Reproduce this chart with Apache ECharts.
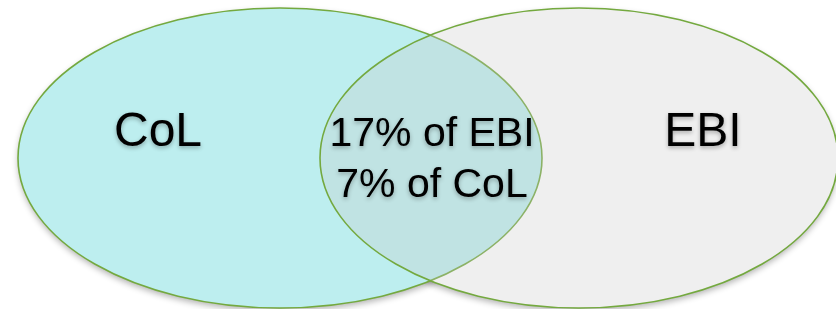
<!DOCTYPE html>
<html lang="en">

<head>
    <meta charset="UTF-8">
    <title>CoL / EBI overlap</title>
    <style>
        * {
            padding: 0;
            margin: 0;
        }

        body {
            background: #fff;
        }

        #main {
            width: 836px;
            height: 309px;
        }
    </style>
</head>

<body>
    <div id="main"></div>
</body>

</html>
<script src="https://cdn.jsdelivr.net/npm/echarts@6/dist/echarts.min.js"></script>
<script>
    // 两个集合
    var setNames = ['CoL', 'EBI'];
    // 交集占比(%)，以及占的是哪个集合
    var overlapShares = [17, 7];
    var overlapOf = ['EBI', 'CoL'];

    // 版式：椭圆在画布坐标里的中心和半径（x 0-836, y 0-309）
    var layout = {
        CoL: { cx: 280, cy: 158, rx: 262, ry: 150, labelX: 158, labelY: 133 },
        EBI: { cx: 579, cy: 158, rx: 259, ry: 150, labelX: 703, labelY: 133 },
        overlap: { x: 432, y: 135, lineGap: 51 }
    };
    var fills = {
        CoL: '#bdeeef',
        EBI: 'rgba(199,199,199,0.29)'
    };

    var myChart = echarts.init(document.getElementById('main'));

    function ellipseShape(api, name) {
        var g = layout[name];
        var c = api.coord([g.cx, g.cy]);
        var edge = api.coord([g.cx + g.rx, g.cy + g.ry]);
        return { cx: c[0], cy: c[1], rx: edge[0] - c[0], ry: edge[1] - c[1] };
    }

    // 底层：白色椭圆 + 阴影
    function renderShadow(params, api) {
        return {
            type: 'ellipse',
            shape: ellipseShape(api, setNames[api.value(0)]),
            style: {
                fill: '#fff',
                shadowBlur: 6,
                shadowOffsetY: 3,
                shadowColor: 'rgba(0,0,0,0.3)'
            }
        };
    }

    // 上层：填充 + 描边
    function renderSet(params, api) {
        var name = setNames[api.value(0)];
        return {
            type: 'ellipse',
            shape: ellipseShape(api, name),
            style: {
                fill: fills[name],
                stroke: '#74a93f',
                lineWidth: 1.6
            }
        };
    }

    var textStyle = {
        fill: '#000',
        fontFamily: 'Liberation Sans, Arial, sans-serif',
        align: 'center',
        verticalAlign: 'middle',
        textShadowColor: 'rgba(0,0,0,0.3)',
        textShadowBlur: 4,
        textShadowOffsetY: 2
    };

    function renderLabel(params, api) {
        var els = [];
        // 集合名称
        setNames.forEach(function (n) {
            var p = api.coord([layout[n].labelX, layout[n].labelY]);
            els.push({
                type: 'text',
                x: p[0], y: p[1],
                style: Object.assign({ text: n, fontSize: 48 }, textStyle)
            });
        });
        // 交集文字
        overlapShares.forEach(function (v, k) {
            var p = api.coord([layout.overlap.x, layout.overlap.y + k * layout.overlap.lineGap]);
            els.push({
                type: 'text',
                x: p[0], y: p[1],
                style: Object.assign({ text: v + '% of ' + overlapOf[k], fontSize: 41 }, textStyle)
            });
        });
        return { type: 'group', children: els };
    }

    var setData = setNames.map(function (n, i) { return [i]; });

    var option = {
        animation: false,
        grid: { left: 0, right: 0, top: 0, bottom: 0 },
        xAxis: { type: 'value', min: 0, max: 836, show: false },
        yAxis: { type: 'value', min: 0, max: 309, inverse: true, show: false },
        series: [{
            type: 'custom',
            renderItem: renderShadow,
            clip: false,
            z: 1,
            data: setData
        }, {
            type: 'custom',
            renderItem: renderSet,
            clip: false,
            z: 2,
            data: setData
        }, {
            type: 'custom',
            renderItem: renderLabel,
            clip: false,
            z: 5,
            data: [[0]]
        }]
    };
    myChart.setOption(option);
</script>
